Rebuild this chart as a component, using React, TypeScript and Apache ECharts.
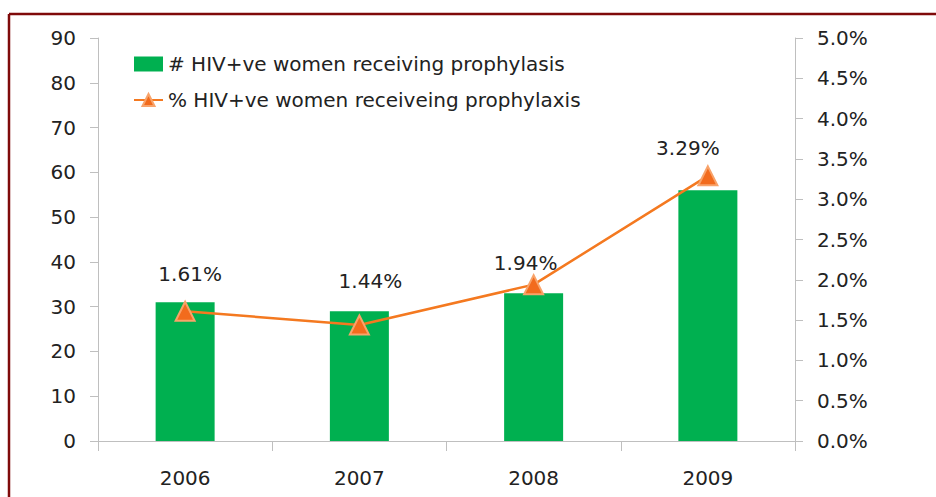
import React, { useEffect, useRef } from "react";
import * as echarts from "echarts";

const years = ["2006", "2007", "2008", "2009"];
const womenCount = [31, 29, 33, 56];
const womenPct = [1.61, 1.44, 1.94, 3.29];
const barName = "# HIV+ve women receiving prophylasis";
const lineName = "% HIV+ve women receiveing prophylaxis";

const labelOffsets = [
  [5, -17],
  [11, -23],
  [-8, -1],
  [-20, -7],
];

export default function App() {
  const ref = useRef<HTMLDivElement>(null);
  useEffect(() => {
    document.body.style.margin = "0";
    const chart = echarts.init(ref.current!, null, { renderer: "svg" });
    const font = "'DejaVu Sans', Verdana, sans-serif";
    const axisGrey = "#BFBFBF";
    chart.setOption({
      animation: false,
      backgroundColor: "#ffffff",
      textStyle: { fontFamily: font },
      grid: { left: 98, right: 141, top: 38, bottom: 56, containLabel: false },
      legend: {
        orient: "vertical",
        left: 128,
        top: 49,
        itemWidth: 29,
        itemHeight: 15,
        itemGap: 16,
        textStyle: { fontFamily: font, fontSize: 20, color: "#222" },
        data: [
          { name: barName, icon: "rect" },
          { name: lineName },
        ],
      },
      xAxis: {
        type: "category",
        data: years,
        axisLine: { lineStyle: { color: axisGrey, width: 1 } },
        axisTick: { show: true, length: 10, lineStyle: { color: axisGrey } },
        axisLabel: {
          margin: 27,
          fontSize: 20,
          color: "#222",
          fontFamily: font,
        },
      },
      yAxis: [
        {
          type: "value",
          min: 0,
          max: 90,
          interval: 10,
          splitLine: { show: false },
          axisLine: { show: true, lineStyle: { color: axisGrey } },
          axisTick: { show: true, inside: false, length: 8, lineStyle: { color: axisGrey } },
          axisLabel: { margin: 22, fontSize: 20, color: "#222", fontFamily: font },
        },
        {
          type: "value",
          min: 0,
          max: 5,
          interval: 0.5,
          position: "right",
          splitLine: { show: false },
          axisLine: { show: true, lineStyle: { color: axisGrey } },
          axisTick: { show: true, length: 8, lineStyle: { color: axisGrey } },
          axisLabel: {
            margin: 22,
            fontSize: 20,
            color: "#222",
            fontFamily: font,
            formatter: (v: number) => v.toFixed(1) + "%",
          },
        },
      ],
      series: [
        {
          name: barName,
          type: "bar",
          data: womenCount,
          barWidth: 59,
          itemStyle: { color: "#00B050" },
        },
        {
          name: lineName,
          type: "line",
          yAxisIndex: 1,
          data: womenPct.map((v, i) => ({
            value: v,
            label: { offset: labelOffsets[i] },
          })),
          symbol: "triangle",
          symbolSize: 19,
          lineStyle: { color: "#F47920", width: 2.5 },
          itemStyle: { color: "#F26B1D", borderColor: "#F8A36A", borderWidth: 2 },
          label: {
            show: true,
            position: "top",
            distance: 0,
            fontSize: 20,
            color: "#222",
            fontFamily: font,
            formatter: (p: any) => p.value.toFixed(2) + "%",
          },
        },
      ],
      graphic: [
        {
          type: "line",
          shape: { x1: 9, y1: 14, x2: 936, y2: 14 },
          style: { stroke: "#7F0A0A", lineWidth: 2.5 },
          z: 100,
        },
        {
          type: "line",
          shape: { x1: 9, y1: 14, x2: 9, y2: 497 },
          style: { stroke: "#7F0A0A", lineWidth: 2.5 },
          z: 100,
        },
      ],
    });
    return () => chart.dispose();
  }, []);
  return <div ref={ref} style={{ width: 936, height: 497 }} />;
}
